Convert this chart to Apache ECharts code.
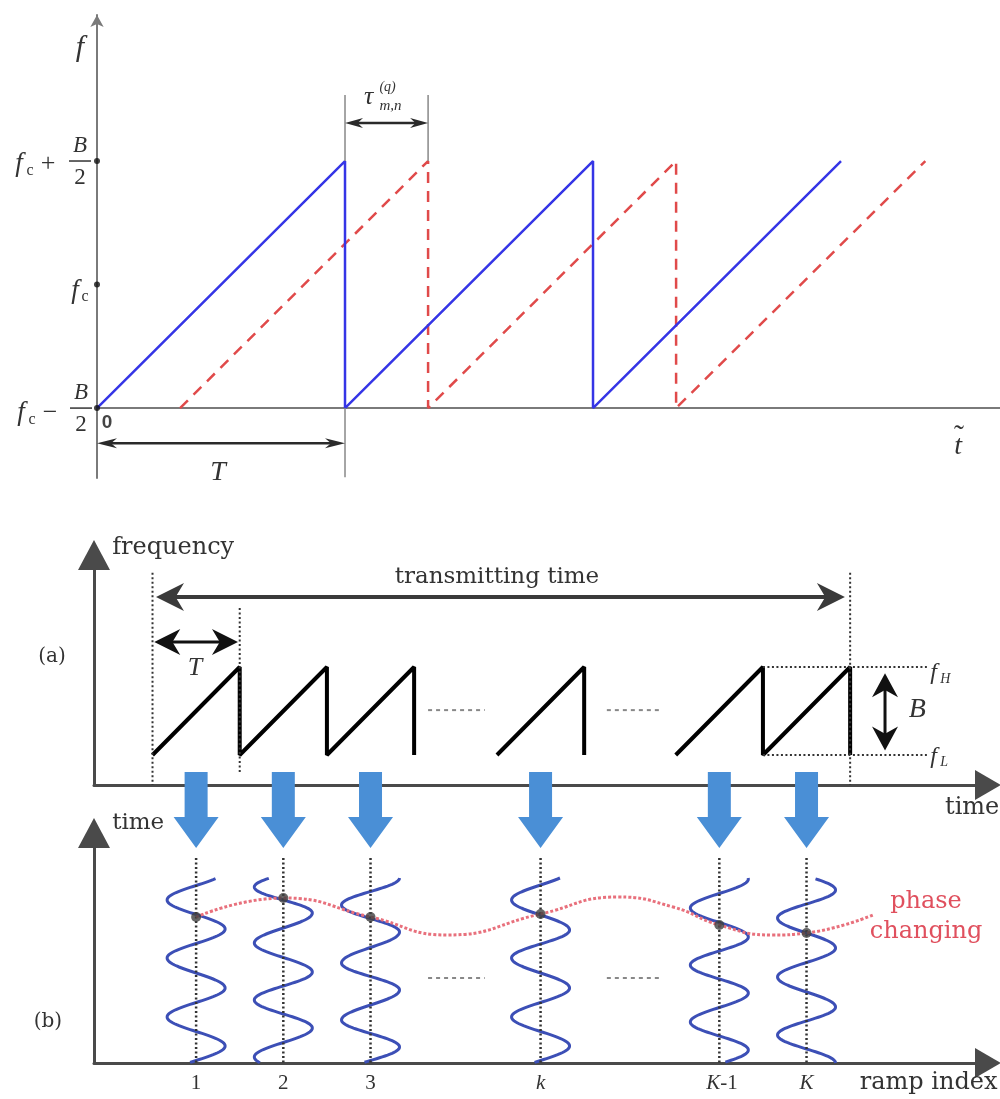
<!DOCTYPE html>
<html><head><meta charset="utf-8">
<script src="https://cdn.jsdelivr.net/npm/echarts@6/dist/echarts.min.js"></script>
<style>html,body{margin:0;padding:0;background:#fff}#main{width:1000px;height:1099px}</style>
</head><body><div id="main"></div>
<script>
// ================= DATA =================
// Top panel: time in units of T, frequency normalised (0 = fc-B/2, 0.5 = fc, 1 = fc+B/2)
const txBlue = [[0,0],[1,1],[1,0],[2,1],[2,0],[3,1]];
const rxRed  = [[0.335,0],[1.335,1],[1.335,0],[2.335,1],[2.335,0],[3.34,1]];
const topTickValues = [0, 0.5, 1];
const delayTau = 0.335;
const periodT = 1;

// Bottom (a): time in ramp periods, frequency 0 = fL, 1 = fH
const rampsStart = [[0,0],[1,1],[1,0],[2,1],[2,0],[3,1],[3,0]];
const rampK      = [[3.95,0],[4.95,1],[4.95,0]];
const rampsEnd   = [[6,0],[7,1],[7,0],[8,1],[8,0]];
const gapDotsX   = [[3.16,3.81],[5.21,5.85]];
const transmitSpan = [0, 8];

// Bottom (b): ramp index along time, "time" inside each ramp on vertical axis
const rampIndexLabels = ['1','2','3','k','K-1','K'];
const rampCenters = [0.5, 1.5, 2.5, 4.45, 6.5, 7.5];
const phasePoints = [14.6, 16.5, 14.6, 14.9, 13.8, 13.0];
const phaseCurve = [[0.5,14.6],[1.5,16.5],[2.5,14.6],[3.38,12.8],[4.45,14.9],[5.33,16.6],[5.97,15.6],[6.5,13.8],[7.11,12.8],[7.5,13.0],[8.26,14.8]];
// turning points (extrema) of each wave, top to bottom; first side: -1 left, +1 right
const waveFirstSide = [-1, -1, -1, -1, 1, 1];
const waveExtrema = [
  [16.3, 13.4, 10.5, 7.5, 4.6, 1.7],
  [17.6, 15.0, 12.0, 9.1, 6.3, 3.5, 0.6],
  [15.8, 13.1, 10.0, 7.3, 4.3, 1.6],
  [16.3, 13.3, 10.5, 7.5, 4.6, 1.7],
  [18.4, 15.5, 12.6, 9.8, 7.0, 4.1, 1.3],
  [17.3, 14.5, 11.5, 8.6, 5.6, 2.8]
];
const waveTop = 18.5;

// ================= STYLE =================
const MATH = '"Liberation Serif"';
const SERIF = '"DejaVu Serif"';
const INK = '#333';

function T(x, y, text, font, fill, align, va) {
  return {type:'text', x:x, y:y, style:{text:text, font:font, fill:fill||INK, align:align||'center', verticalAlign:va||'middle'}};
}
function L(p1, p2, stroke, w, dash) {
  return {type:'line', shape:{x1:p1[0], y1:p1[1], x2:p2[0], y2:p2[1]}, style:{stroke:stroke, lineWidth:w, lineDash:dash||null}};
}
function head(tip, from, len, half, fill, notch) {
  const dx = tip[0]-from[0], dy = tip[1]-from[1], d = Math.hypot(dx,dy), ux = dx/d, uy = dy/d;
  const bx = tip[0]-ux*len, by = tip[1]-uy*len;
  const nx = tip[0]-ux*len*(1-notch), ny = tip[1]-uy*len*(1-notch);
  return {type:'polygon', shape:{points:[tip,[bx-uy*half,by+ux*half],[nx,ny],[bx+uy*half,by-ux*half]]}, style:{fill:fill}};
}
function arrow(p1, p2, o) {
  const dx = p2[0]-p1[0], dy = p2[1]-p1[1], d = Math.hypot(dx,dy), ux = dx/d, uy = dy/d;
  const k = o.len*0.6;
  const a = o.start ? [p1[0]+ux*k, p1[1]+uy*k] : p1;
  const b = o.end ? [p2[0]-ux*k, p2[1]-uy*k] : p2;
  const els = [L(a, b, o.color, o.width)];
  if (o.end) els.push(head(p2, p1, o.len, o.half, o.color, o.notch));
  if (o.start) els.push(head(p1, p2, o.len, o.half, o.color, o.notch));
  return els;
}

// ---------- top panel annotations ----------
function renderTop(params, api) {
  const c = p => api.coord(p);
  const els = [];
  const g = '#888';
  els.push(L(c([periodT,0]), c([periodT,-0.28]), g, 1.5));
  els.push(L(c([periodT,1]), c([periodT,1.267]), g, 1.5));
  els.push(L(c([periodT+delayTau,1]), c([periodT+delayTau,1.267]), g, 1.5));
  const ao = {color:'#2a2a2a', width:2.5, len:20, half:5, notch:0.3, start:true, end:true};
  els.push(...arrow(c([0,-0.142]), c([periodT,-0.142]), ao));
  els.push(...arrow(c([periodT,1.154]), c([periodT+delayTau,1.154]), Object.assign({}, ao, {len:18})));
  const A1 = c([0, topTickValues[2]]);
  els.push(T(A1[0]-78, A1[1]+3, 'f', 'italic 27px '+MATH));
  els.push(T(A1[0]-67, A1[1]+10, 'c', '16px '+MATH));
  els.push(T(A1[0]-49, A1[1]+3, '+', '26px '+MATH));
  els.push(T(A1[0]-17, A1[1]-15, 'B', 'italic 23px '+MATH));
  els.push(L([A1[0]-28, A1[1]], [A1[0]-6, A1[1]], INK, 1.5));
  els.push(T(A1[0]-17, A1[1]+17, '2', '23px '+MATH));
  const A2 = c([0, topTickValues[1]]);
  els.push(T(A2[0]-22, A2[1]+6, 'f', 'italic 27px '+MATH));
  els.push(T(A2[0]-12, A2[1]+12, 'c', '16px '+MATH));
  const A0 = c([0, topTickValues[0]]);
  els.push(T(A0[0]-76, A0[1]+5, 'f', 'italic 27px '+MATH));
  els.push(T(A0[0]-65, A0[1]+12, 'c', '16px '+MATH));
  els.push(T(A0[0]-47, A0[1]+5, '\u2212', '26px '+MATH));
  els.push(T(A0[0]-16, A0[1]-15, 'B', 'italic 23px '+MATH));
  els.push(L([A0[0]-27, A0[1]], [A0[0]-5, A0[1]], INK, 1.5));
  els.push(T(A0[0]-16, A0[1]+17, '2', '23px '+MATH));
  els.push(T(A0[0]+10, A0[1]+15, '0', 'bold 19px "Liberation Sans"', '#444'));
  const F = c([-0.069, 1.457]);
  els.push(T(F[0], F[1], 'f', 'italic 30px '+MATH));
  const TT = c([0.488, -0.263]);
  els.push(T(TT[0], TT[1], 'T', 'italic 28px '+MATH));
  const tl = c([3.472, -0.15]);
  els.push(T(tl[0], tl[1]+2, 't', 'italic 28px '+MATH));
  els.push(T(tl[0]+1, tl[1]-8, '\u02DC', '30px '+MATH));
  const TA = c([periodT+delayTau/2, 1]);
  els.push(T(TA[0]-18, TA[1]-64, '\u03C4', 'italic 26px '+MATH));
  els.push(T(TA[0]+1, TA[1]-74, '(q)', 'italic 14px '+MATH));
  els.push(T(TA[0]+4, TA[1]-55, 'm,n', 'italic 15px '+MATH));
  return {type:'group', children:els};
}

// ---------- bottom (a) annotations ----------
function renderA(params, api) {
  const c = p => api.coord(p);
  const els = [];
  const dot = [2,2.5];
  els.push(L(c([transmitSpan[0],2.07]), c([transmitSpan[0],-0.341]), '#333', 2, dot));
  els.push(L(c([1,1.67]), c([1,-0.2]), '#333', 2, dot));
  els.push(L(c([transmitSpan[1],2.07]), c([transmitSpan[1],-0.341]), '#333', 2, dot));
  els.push(L(c([7,1]), c([8.88,1]), '#333', 2, dot));
  els.push(L(c([7,0]), c([8.88,0]), '#333', 2, dot));
  gapDotsX.forEach(g => els.push(L(c([g[0],0.51]), c([g[1],0.51]), '#888', 2, [4,4])));
  els.push(...arrow(c([transmitSpan[0]+0.04,1.795]), c([transmitSpan[1]-0.06,1.795]), {color:'#3a3a3a', width:4, len:28, half:14, notch:0.3, start:true, end:true}));
  els.push(...arrow(c([0.02,1.284]), c([0.98,1.284]), {color:'#111', width:3, len:26, half:13, notch:0.3, start:true, end:true}));
  els.push(...arrow(c([8.40,0.93]), c([8.40,0.05]), {color:'#111', width:3, len:24, half:13, notch:0.3, start:true, end:true}));
  let p;
  p = c([-1.153,1.114]); els.push(T(p[0], p[1], '(a)', '20px '+SERIF));
  p = c([-0.463,2.352]); els.push(T(p[0], p[1], 'frequency', '24px '+SERIF, INK, 'left'));
  p = c([3.95,2.02]);    els.push(T(p[0], p[1], 'transmitting time', '23px '+SERIF));
  p = c([0.487,0.989]);  els.push(T(p[0], p[1], 'T', 'italic 26px '+MATH));
  p = c([8.77,0.511]);   els.push(T(p[0], p[1], 'B', 'italic 28px '+MATH));
  p = c([8.92,0.93]);    els.push(T(p[0], p[1], 'f', 'italic 24px '+MATH, INK, 'left'));
  els.push(T(p[0]+10, p[1]+6, 'H', 'italic 14px '+MATH, INK, 'left'));
  p = c([8.92,-0.02]);   els.push(T(p[0], p[1], 'f', 'italic 24px '+MATH, INK, 'left'));
  els.push(T(p[0]+10, p[1]+6, 'L', 'italic 14px '+MATH, INK, 'left'));
  p = c([9.088,-0.60]);  els.push(T(p[0], p[1], 'time', '24px '+SERIF, INK, 'left'));
  return {type:'group', children:els};
}

// ---------- bottom (b) annotations ----------
function renderB(params, api) {
  const c = p => api.coord(p);
  const els = [];
  rampCenters.forEach(x => {
    const top = c([x,29.1]), base = c([x,24.6]), tip = c([x,21.5]);
    const cx = top[0];
    els.push({type:'polygon', shape:{points:[[cx-11.5,top[1]],[cx+11.5,top[1]],[cx+11.5,base[1]],[cx+22.5,base[1]],[cx,tip[1]],[cx-22.5,base[1]],[cx-11.5,base[1]]]}, style:{fill:'#4a8fd6'}});
  });
  rampCenters.forEach((cxv, i) => {
    const ex = waveExtrema[i], s0 = waveFirstSide[i], n = ex.length;
    const ys = [ex[0] + (ex[0]-ex[1])].concat(ex, [ex[n-1] - (ex[n-2]-ex[n-1])]);
    const pts = [];
    for (let k = 0; k < ys.length-1; k++) {
      const side = s0 * (k % 2 === 1 ? 1 : -1);
      for (let j = 0; j <= 30; j++) {
        const u = j/30;
        const y = ys[k] + (ys[k+1]-ys[k])*u;
        if (y > waveTop || y < 0) continue;
        const p = c([cxv, y]);
        pts.push([p[0] + side*Math.cos(Math.PI*u)*29, p[1]]);
      }
    }
    els.push({type:'polyline', shape:{points:pts}, style:{stroke:'#3c4fb6', lineWidth:3, fill:null}});
  });
  rampCenters.forEach(x => els.push(L(c([x,20.5]), c([x,0]), '#333', 2.5, [2,2.5])));
  gapDotsX.forEach(g => els.push(L(c([g[0],8.5]), c([g[1],8.5]), '#888', 2, [4,4])));
  let p;
  p = c([-1.2,4.1]);    els.push(T(p[0], p[1], '(b)', '20px '+SERIF));
  p = c([-0.463,24.0]); els.push(T(p[0], p[1], 'time', '23px '+SERIF, INK, 'left'));
  p = c([8.11,-2.0]);   els.push(T(p[0], p[1], 'ramp index', '24px '+SERIF, INK, 'left'));
  p = c([8.87,16.1]);   els.push(T(p[0], p[1], 'phase', '24px '+SERIF, '#e0505e'));
  p = c([8.87,13.1]);   els.push(T(p[0], p[1], 'changing', '24px '+SERIF, '#e0505e'));
  rampIndexLabels.forEach((lab, i) => {
    const q = c([rampCenters[i], -2.0]);
    if (lab === 'K-1') {
      els.push(T(q[0]+1, q[1], 'K', 'italic 21px '+MATH, INK, 'right'));
      els.push(T(q[0]+1, q[1], '-1', '21px '+MATH, INK, 'left'));
    } else if (/^\d+$/.test(lab)) {
      els.push(T(q[0], q[1], lab, '21px '+MATH));
    } else {
      els.push(T(q[0], q[1], lab, 'italic 21px '+MATH));
    }
  });
  return {type:'group', children:els};
}

const noAxisBits = {axisTick:{show:false}, axisLabel:{show:false}, splitLine:{show:false}};
const bottomAxisLine = (sz) => ({show:true, onZero:false, symbol:['none','triangle'], symbolSize:sz, lineStyle:{color:'#4a4a4a', width:3}});

const option = {
  animation: false,
  backgroundColor: '#fff',
  grid: [
    {left:97, top:15, width:903, height:463},
    {left:94, top:555, width:894, height:230},
    {left:94, top:833, width:894, height:230}
  ],
  xAxis: [
    Object.assign({gridIndex:0, type:'value', min:0, max:3.641, axisLine:{show:true, onZero:true, lineStyle:{color:'#7a7a7a', width:2}}}, noAxisBits),
    Object.assign({gridIndex:1, type:'value', min:-0.671, max:9.581, axisLine:bottomAxisLine([30,26])}, noAxisBits),
    Object.assign({gridIndex:2, type:'value', min:-0.671, max:9.581, axisLine:bottomAxisLine([30,26])}, noAxisBits)
  ],
  yAxis: [
    Object.assign({gridIndex:0, type:'value', min:-0.283, max:1.591, axisLine:{show:true, onZero:true, symbol:['none','arrow'], symbolSize:[10,12], lineStyle:{color:'#7a7a7a', width:2}}}, noAxisBits),
    Object.assign({gridIndex:1, type:'value', min:-0.341, max:2.273, axisLine:bottomAxisLine([32,30])}, noAxisBits),
    Object.assign({gridIndex:2, type:'value', min:0, max:23.0, axisLine:bottomAxisLine([32,30])}, noAxisBits)
  ],
  series: [
    {type:'line', xAxisIndex:0, yAxisIndex:0, data:rxRed, showSymbol:false, lineStyle:{color:'#e04a4a', width:2.5, type:[11,8]}, z:3},
    {type:'line', xAxisIndex:0, yAxisIndex:0, data:txBlue, showSymbol:false, lineStyle:{color:'#3535e6', width:2.5}, z:4},
    {type:'scatter', xAxisIndex:0, yAxisIndex:0, data:topTickValues.map(v => [0, v]), symbolSize:6, itemStyle:{color:'#111'}, z:6},
    {type:'custom', xAxisIndex:0, yAxisIndex:0, data:[[0,0]], renderItem:renderTop, clip:false, silent:true, z:5},

    {type:'line', xAxisIndex:1, yAxisIndex:1, data:rampsStart, showSymbol:false, lineStyle:{color:'#000', width:4}, z:4},
    {type:'line', xAxisIndex:1, yAxisIndex:1, data:rampK, showSymbol:false, lineStyle:{color:'#000', width:4}, z:4},
    {type:'line', xAxisIndex:1, yAxisIndex:1, data:rampsEnd, showSymbol:false, lineStyle:{color:'#000', width:4}, z:4},
    {type:'custom', xAxisIndex:1, yAxisIndex:1, data:[[0,0]], renderItem:renderA, clip:false, silent:true, z:5},

    {type:'custom', xAxisIndex:2, yAxisIndex:2, data:[[0,0]], renderItem:renderB, clip:false, silent:true, z:5},
    {type:'line', xAxisIndex:2, yAxisIndex:2, data:phaseCurve, smooth:0.5, showSymbol:false, lineStyle:{color:'#e8707c', width:3, type:[3,2]}, z:6},
    {type:'scatter', xAxisIndex:2, yAxisIndex:2, data:rampCenters.map((x,i) => [x, phasePoints[i]]), symbolSize:10, itemStyle:{color:'#404040'}, z:7}
  ]
};
const chart = echarts.init(document.getElementById('main'), null, {renderer:'canvas'});
chart.setOption(option);
</script>
</body></html>
